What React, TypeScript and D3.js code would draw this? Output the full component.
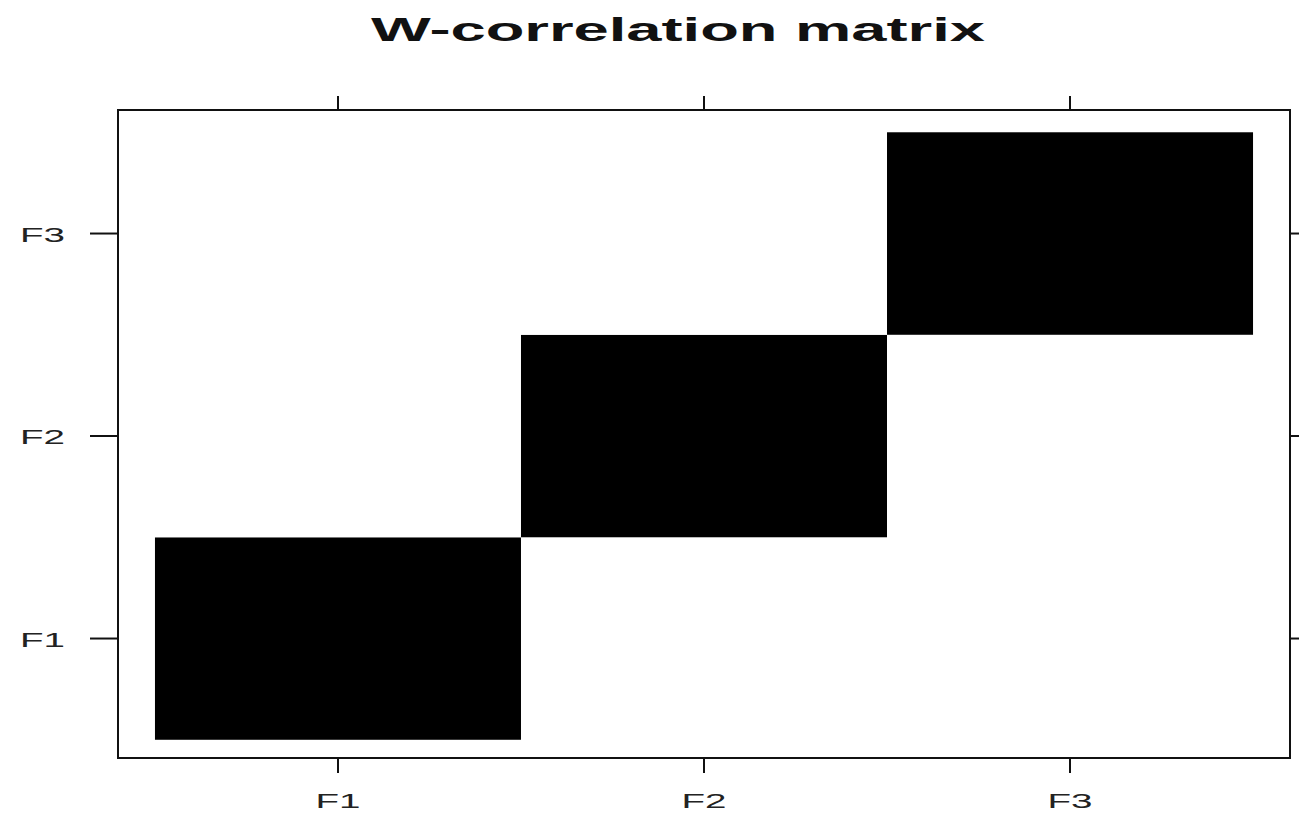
import { useEffect, useRef } from "react";
import * as d3 from "d3";

const components = ["F1", "F2", "F3"];
// w-correlations, row i = component i, column j = component j
const wcorRow1 = [1, 0, 0];
const wcorRow2 = [0, 1, 0];
const wcorRow3 = [0, 0, 1];
const wcorRows = [wcorRow1, wcorRow2, wcorRow3];
const chartTitle = "W-correlation matrix";

const WIDTH = 1299;
const HEIGHT = 814;

const App = () => {
  const ref = useRef<SVGSVGElement>(null);

  useEffect(() => {
    if (!ref.current) return;
    const svg = d3.select(ref.current);
    svg.selectAll("*").remove();

    const panel = { left: 118, right: 1290, top: 110, bottom: 758 };

    // lattice-style padded limits around the 0.5..3.5 cell range
    const x = d3.scaleLinear().domain([0.399, 3.601]).range([panel.left, panel.right]);
    const y = d3.scaleLinear().domain([0.41, 3.61]).range([panel.bottom, panel.top]);
    const color = d3.scaleLinear<string>().domain([0, 1]).range(["#ffffff", "#000000"]);

    const cells = wcorRows.flatMap((row, i) =>
      row.map((v, j) => ({ i: i + 1, j: j + 1, v }))
    );

    const fontFamily = "'Liberation Sans', Arial, Helvetica, sans-serif";

    // title
    svg
      .append("text")
      .attr("x", 678)
      .attr("y", 41)
      .attr("text-anchor", "middle")
      .attr("font-family", fontFamily)
      .attr("font-weight", "bold")
      .attr("font-size", 34)
      .attr("textLength", 614)
      .attr("lengthAdjust", "spacingAndGlyphs")
      .attr("fill", "#111")
      .text(chartTitle);

    // cells
    svg
      .append("g")
      .selectAll("rect")
      .data(cells)
      .enter()
      .append("rect")
      .attr("x", (d) => x(d.i - 0.5))
      .attr("width", (d) => x(d.i + 0.5) - x(d.i - 0.5))
      .attr("y", (d) => y(d.j + 0.5))
      .attr("height", (d) => y(d.j - 0.5) - y(d.j + 0.5))
      .attr("fill", (d) => color(d.v));

    // frame
    svg
      .append("rect")
      .attr("x", panel.left)
      .attr("y", panel.top)
      .attr("width", panel.right - panel.left)
      .attr("height", panel.bottom - panel.top)
      .attr("fill", "none")
      .attr("stroke", "#111")
      .attr("stroke-width", 2);

    const tickG = svg.append("g").attr("stroke", "#111").attr("stroke-width", 2);
    components.forEach((_, k) => {
      const cx = x(k + 1);
      const cy = y(k + 1);
      tickG.append("line").attr("x1", cx).attr("x2", cx).attr("y1", 96).attr("y2", panel.top);
      tickG.append("line").attr("x1", cx).attr("x2", cx).attr("y1", panel.bottom).attr("y2", 773);
      tickG.append("line").attr("x1", 90).attr("x2", panel.left).attr("y1", cy).attr("y2", cy);
      tickG.append("line").attr("x1", panel.right).attr("x2", 1310).attr("y1", cy).attr("y2", cy);
    });

    // tick labels
    svg
      .append("g")
      .selectAll("text")
      .data(components)
      .enter()
      .append("text")
      .attr("x", (_, k) => x(k + 1))
      .attr("y", 808)
      .attr("text-anchor", "middle")
      .attr("font-family", fontFamily)
      .attr("font-size", 21)
      .attr("textLength", 45)
      .attr("lengthAdjust", "spacingAndGlyphs")
      .attr("fill", "#222")
      .text((d) => d);

    svg
      .append("g")
      .selectAll("text")
      .data(components)
      .enter()
      .append("text")
      .attr("x", 65)
      .attr("y", (_, k) => y(k + 1) + 8)
      .attr("text-anchor", "end")
      .attr("font-family", fontFamily)
      .attr("font-size", 21)
      .attr("textLength", 45)
      .attr("lengthAdjust", "spacingAndGlyphs")
      .attr("fill", "#222")
      .text((d) => d);
  }, []);

  return (
    <svg
      ref={ref}
      width={WIDTH}
      height={HEIGHT}
      style={{ position: "absolute", left: 0, top: 0, background: "#fff" }}
    />
  );
};

export default App;
